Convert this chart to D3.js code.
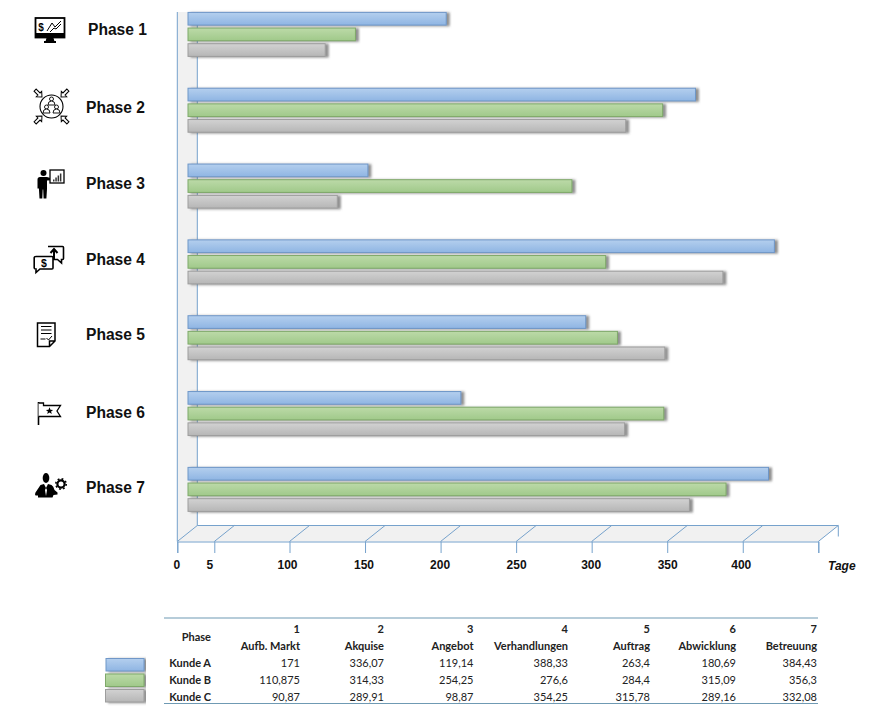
<!DOCTYPE html>
<html>
<head>
<meta charset="utf-8">
<script src="https://cdn.jsdelivr.net/npm/d3@7"></script>
<style>
  html, body { margin: 0; background: #fff; }
  svg { display: block; }
</style>
</head>
<body>
<svg width="884" height="718"></svg>
<script>
const phases = ['Phase 1', 'Phase 2', 'Phase 3', 'Phase 4', 'Phase 5', 'Phase 6', 'Phase 7'];
const phaseNames = ['Aufb. Markt', 'Akquise', 'Angebot', 'Verhandlungen', 'Auftrag', 'Abwicklung', 'Betreuung'];
const series = ['Kunde A', 'Kunde B', 'Kunde C'];
const kundeA = [171, 336.07, 119.14, 388.33, 263.4, 180.69, 384.43];
const kundeB = [110.875, 314.33, 254.25, 276.6, 284.4, 315.09, 356.3];
const kundeC = [90.87, 289.91, 98.87, 354.25, 315.78, 289.16, 332.08];
const axisTicks = [0, 5, 100, 150, 200, 250, 300, 350, 400, 450];
const axisLabels = ['0', '5', '100', '150', '200', '250', '300', '350', '400', ''];

const values = [kundeA, kundeB, kundeC];
const fills = [['#b4cfee', '#8fb5e3', '#6f97c8'], ['#bcdaa8', '#a0c98a', '#7fa96a'], ['#d2d2d2', '#b6b6b6', '#9d9d9d']];

const svg = d3.select('svg');
const lineCol = '#76a2cc';
const depthX = 20, depthY = 16;
const floorY = 541.5, wallTop = 12;

// bars and axis do not share a zero in the original, hence two scales
const x = d3.scaleLinear().domain([0, 450]).range([188, 867.5]);
const axisX = d3.scaleLinear().domain([0, 5, 100, 450]).range([177.3, 214.3, 289.5, 818.3]);
const y = d3.scaleBand().domain(phases).range([12.4, 12.4 + 75.83 * 7]);
const ySeries = d3.scaleBand().domain(series).range([0, 44]).paddingInner(0.19);

const labelY = d3.scaleOrdinal().domain(phases).range([29, 107, 183, 259, 334, 412, 487]);

const defs = svg.append('defs');
const shadow = defs.append('filter').attr('id', 'shadow')
  .attr('x', '-5%').attr('y', '-30%').attr('width', '110%').attr('height', '170%');
shadow.append('feDropShadow').attr('dx', 3).attr('dy', 0.6).attr('stdDeviation', 1.1)
  .attr('flood-color', '#555').attr('flood-opacity', 0.65);
fills.forEach((f, i) => {
  const g = defs.append('linearGradient').attr('id', `grad${i}`)
    .attr('x1', 0).attr('y1', 0).attr('x2', 0).attr('y2', 1);
  g.append('stop').attr('offset', '0%').attr('stop-color', f[0]);
  g.append('stop').attr('offset', '100%').attr('stop-color', f[1]);
});

// walls and floor
const x0 = axisX(0), x1 = axisX(450);
svg.append('polygon')
  .attr('points', [[x0, wallTop], [x0 + depthX, wallTop], [x0 + depthX, floorY - depthY], [x0, floorY]].join(' '))
  .attr('fill', '#f1f1f1');
svg.append('polygon')
  .attr('points', [[x0, floorY], [x0 + depthX, floorY - depthY], [x1 + depthX, floorY - depthY], [x1, floorY]].join(' '))
  .attr('fill', '#f1f1f1');
const frame = [
  [x0, wallTop, x0, floorY],
  [x0 + depthX, wallTop, x0 + depthX, floorY - depthY],
  [x0 + depthX, floorY - depthY, x1 + depthX, floorY - depthY],
  [x1 + depthX, floorY - depthY, x1 + depthX, floorY - depthY + 11]
];
svg.append('g').selectAll('line').data(frame).enter().append('line')
  .attr('x1', d => d[0]).attr('y1', d => d[1]).attr('x2', d => d[2]).attr('y2', d => d[3])
  .attr('stroke', lineCol).attr('stroke-width', 1);
svg.append('g').selectAll('line').data(axisTicks).enter().append('line')
  .attr('x1', d => axisX(d)).attr('y1', floorY)
  .attr('x2', d => axisX(d) + depthX).attr('y2', floorY - depthY)
  .attr('stroke', lineCol).attr('stroke-width', 1);

// axis
const labelShift = [-1, -5, -2.5, -1.5, -1, 0, -1, 0, -2, 0];
const axis = d3.axisBottom(axisX)
  .tickValues(axisTicks)
  .tickSize(11.5)
  .tickPadding(7)
  .tickFormat((d, i) => axisLabels[i]);
const axisG = svg.append('g').attr('transform', `translate(0,${floorY})`).call(axis);
axisG.select('.domain').attr('stroke', lineCol);
axisG.selectAll('.tick line').attr('stroke', lineCol);
axisG.selectAll('.tick text')
  .attr('dx', (d, i) => labelShift[i])
  .attr('fill', '#111')
  .style('font', 'bold 12px "Liberation Sans", Arial, sans-serif');
svg.append('text').attr('x', 828).attr('y', 569.5).text('Tage')
  .style('font', 'italic bold 12px "Liberation Sans", Arial, sans-serif').attr('fill', '#111');

// bars
const rows = svg.append('g').selectAll('g').data(series).enter().append('g')
  .attr('filter', 'url(#shadow)');
rows.selectAll('rect')
  .data((s, i) => values[i].map((v, j) => ({v, phase: phases[j], s, i})))
  .enter().append('rect')
  .attr('x', x(0))
  .attr('y', d => y(d.phase) + ySeries(d.s))
  .attr('width', d => x(d.v) - x(0))
  .attr('height', ySeries.bandwidth())
  .attr('fill', d => `url(#grad${d.i})`)
  .attr('stroke', d => fills[d.i][2])
  .attr('stroke-width', 1);

// phase labels
svg.append('g').selectAll('text').data(phases).enter().append('text')
  .attr('x', (d, i) => i === 0 ? 88 : 86)
  .attr('y', d => labelY(d))
  .attr('dy', '0.36em')
  .text(d => d)
  .style('font', 'bold 15.6px "Liberation Sans", Arial, sans-serif')
  .attr('fill', '#111');

// icons
const icon = () => svg.append('g').attr('fill', 'none').attr('stroke', '#000');

const i1 = icon();
i1.append('rect').attr('x', 35.5).attr('y', 18).attr('width', 29).attr('height', 19.5).attr('fill', '#fff').attr('stroke-width', 1.8);
i1.append('rect').attr('x', 35).attr('y', 33).attr('width', 30).attr('height', 5).attr('fill', '#000').attr('stroke', 'none');
i1.append('path').attr('d', 'M46.5 38h7l1 3.5h-9zM44 41h12v2h-12z').attr('fill', '#000').attr('stroke', 'none');
i1.append('text').attr('x', 41).attr('y', 30.5).attr('text-anchor', 'middle').attr('stroke', 'none').attr('fill', '#000')
  .style('font', 'bold 10px "Liberation Sans", Arial, sans-serif').text('$');
i1.append('path').attr('d', 'M47 31l5-8 3 4 6-6M50 32l4-4 2 1 5-5').attr('stroke-width', 1);

const i2 = icon();
i2.append('circle').attr('cx', 51.5).attr('cy', 106.5).attr('r', 11.5).attr('stroke-width', 1.1);
[[51.5, 100.5], [46.5, 108.5], [56.5, 108.5]].forEach(p => {
  i2.append('circle').attr('cx', p[0]).attr('cy', p[1] - 1.5).attr('r', 2).attr('stroke-width', 0.9);
  i2.append('path').attr('d', `M${p[0] - 3.5} ${p[1] + 4.5}q0 -4 3.5 -4t3.5 4z`).attr('stroke-width', 0.9).attr('fill', '#fff');
});
[[45, 39, 94], [135, 64, 94], [225, 64, 119], [315, 39, 119]].forEach(a => {
  i2.append('path')
    .attr('d', 'M-5.5 -1.5H0V-3.8L4.2 0L0 3.8V1.5H-5.5Z')
    .attr('transform', `translate(${a[1]},${a[2]}) rotate(${a[0]})`)
    .attr('fill', '#fff').attr('stroke-width', 1);
});

const i3 = icon();
i3.append('circle').attr('cx', 43.5).attr('cy', 173).attr('r', 3).attr('fill', '#000').attr('stroke', 'none');
i3.append('path').attr('d', 'M39 177h8l5 1.4v1.8l-5 .2v8.6l-.6 9.5h-2.8l-.4 -9h-.5l-.4 9h-2.8l-.6 -10h-1.4v-9q0 -2.5 2.5 -2.5z').attr('fill', '#000').attr('stroke', 'none');
i3.append('rect').attr('x', 50).attr('y', 170).attr('width', 14).attr('height', 13).attr('fill', '#fff').attr('stroke-width', 1.3);
i3.selectAll('.b').data([2, 4, 6, 8]).enter().append('rect')
  .attr('x', (d, i) => 53 + i * 2.3).attr('y', d => 181.5 - d).attr('width', 1.5).attr('height', d => d)
  .attr('fill', '#333').attr('stroke', 'none');

const i4 = icon().attr('stroke-width', 1.6);
i4.append('path').attr('d', 'M48 246.5h14.5q1 0 1 1v11q0 1 -1 1h-1v3.5l-4 -3.5h-6').attr('fill', '#fff');
i4.append('path').attr('d', 'M54 259v-9M50.5 253l3.5 -4 3.5 4').attr('stroke-width', 2);
i4.append('path').attr('d', 'M36 256.5h16q1 0 1 1v10.5q0 1 -1 1h-12l-4 3.5v-3.5q-1.8 0 -1.8 -1v-10.5q0 -1 1.8 -1z').attr('fill', '#fff');
i4.append('text').attr('x', 44).attr('y', 267).attr('text-anchor', 'middle').attr('stroke', 'none').attr('fill', '#000')
  .style('font', 'bold 10.5px "Liberation Sans", Arial, sans-serif').text('$');

const i5 = icon().attr('stroke-width', 1.5);
i5.append('path').attr('d', 'M37.5 323h17.5v18l-5.5 5.5h-12zM49.5 346.5v-5.5h5.5').attr('fill', '#fff');
i5.append('path').attr('d', 'M41 326.5h10.5M41 330h10.5M41 333.5h10.5').attr('stroke-width', 1.2);
i5.append('path').attr('d', 'M40.5 339h5M46.5 338l2 2 3.5 -4').attr('stroke-width', 1);

const i6 = icon().attr('stroke-width', 1.3);
i6.append('path').attr('d', 'M38.5 402v23').attr('stroke-width', 1.6);
i6.append('path').attr('d', 'M38.5 403h5v2.5h17l-3.5 5.5 3.5 5.5h-22').attr('fill', '#fff');
i6.append('path').attr('d', 'M49.5 407.3l1 2.4 2.6 .2 -2 1.6 .7 2.5 -2.3 -1.4 -2.3 1.4 .7 -2.5 -2 -1.6 2.6 -.2z').attr('fill', '#000').attr('stroke', 'none');

const i7 = icon();
i7.append('ellipse').attr('cx', 46).attr('cy', 478).attr('rx', 3.3).attr('ry', 5).attr('fill', '#000').attr('stroke', 'none');
i7.append('path').attr('d', 'M40.5 485l3.5 -1 2 4 2 -4 3.5 1q2 1 3 5l3 2.5v2l-4 .5 -1 2.5h-14.5v-2h-2.5q-1 -1 0 -3z').attr('fill', '#000').attr('stroke', 'none');
i7.append('path').attr('d', 'M46 488l-1 2 1 6 1 -6z').attr('fill', '#fff').attr('stroke', 'none');
i7.append('circle').attr('cx', 61).attr('cy', 484).attr('r', 3.6).attr('stroke-width', 2.2).attr('fill', '#fff');
i7.append('circle').attr('cx', 61).attr('cy', 484).attr('r', 5.2).attr('stroke-width', 1.6).attr('stroke-dasharray', '1.8 2.28').attr('fill', 'none');

// table
const tableFont = '"Lato", "Open Sans", sans-serif';
const tableCol = '#222';
const colRight = d3.scaleOrdinal().domain(phases).range([300, 384, 473.5, 568, 650, 736, 817]);
const rowY = d3.scaleOrdinal().domain(series).range([663, 680, 697]);
const legendY = d3.scalePoint().domain(series).range([658.5, 689.5]);
const table = svg.append('g').attr('fill', tableCol).attr('text-anchor', 'end')
  .style('font-family', tableFont).style('font-size', '11px');

[618, 703.5].forEach(ly => {
  table.append('line').attr('x1', 164).attr('x2', 818).attr('y1', ly).attr('y2', ly)
    .attr('stroke', '#6f9ab3').attr('stroke-width', 1.2);
});
table.append('text').attr('x', 211).attr('y', 637).attr('dy', '0.36em').attr('font-weight', 700).text('Phase');
table.selectAll('.num').data(phases).enter().append('text')
  .attr('x', d => colRight(d)).attr('y', 629).attr('dy', '0.36em').attr('font-weight', 700)
  .text((d, i) => i + 1);
table.selectAll('.name').data(phases).enter().append('text')
  .attr('x', d => colRight(d)).attr('y', 646).attr('dy', '0.36em').attr('font-weight', 700)
  .text((d, i) => phaseNames[i]);
series.forEach((s, si) => {
  table.append('text').attr('x', 211).attr('y', rowY(s)).attr('dy', '0.36em').attr('font-weight', 700).text(s);
  table.selectAll(`.row${si}`).data(values[si]).enter().append('text')
    .attr('x', (d, i) => colRight(phases[i])).attr('y', rowY(s)).attr('dy', '0.36em')
    .text(d => String(d).replace('.', ','));
});

// legend swatches
svg.append('g').attr('filter', 'url(#shadow)').selectAll('rect').data(series).enter().append('rect')
  .attr('x', (d, i) => i === 0 ? 106 : 105.5)
  .attr('y', d => legendY(d))
  .attr('width', (d, i) => i === 0 ? 38 : 38.5)
  .attr('height', 12.5)
  .attr('fill', (d, i) => `url(#grad${i})`)
  .attr('stroke', (d, i) => fills[i][2]);
</script>
</body>
</html>
